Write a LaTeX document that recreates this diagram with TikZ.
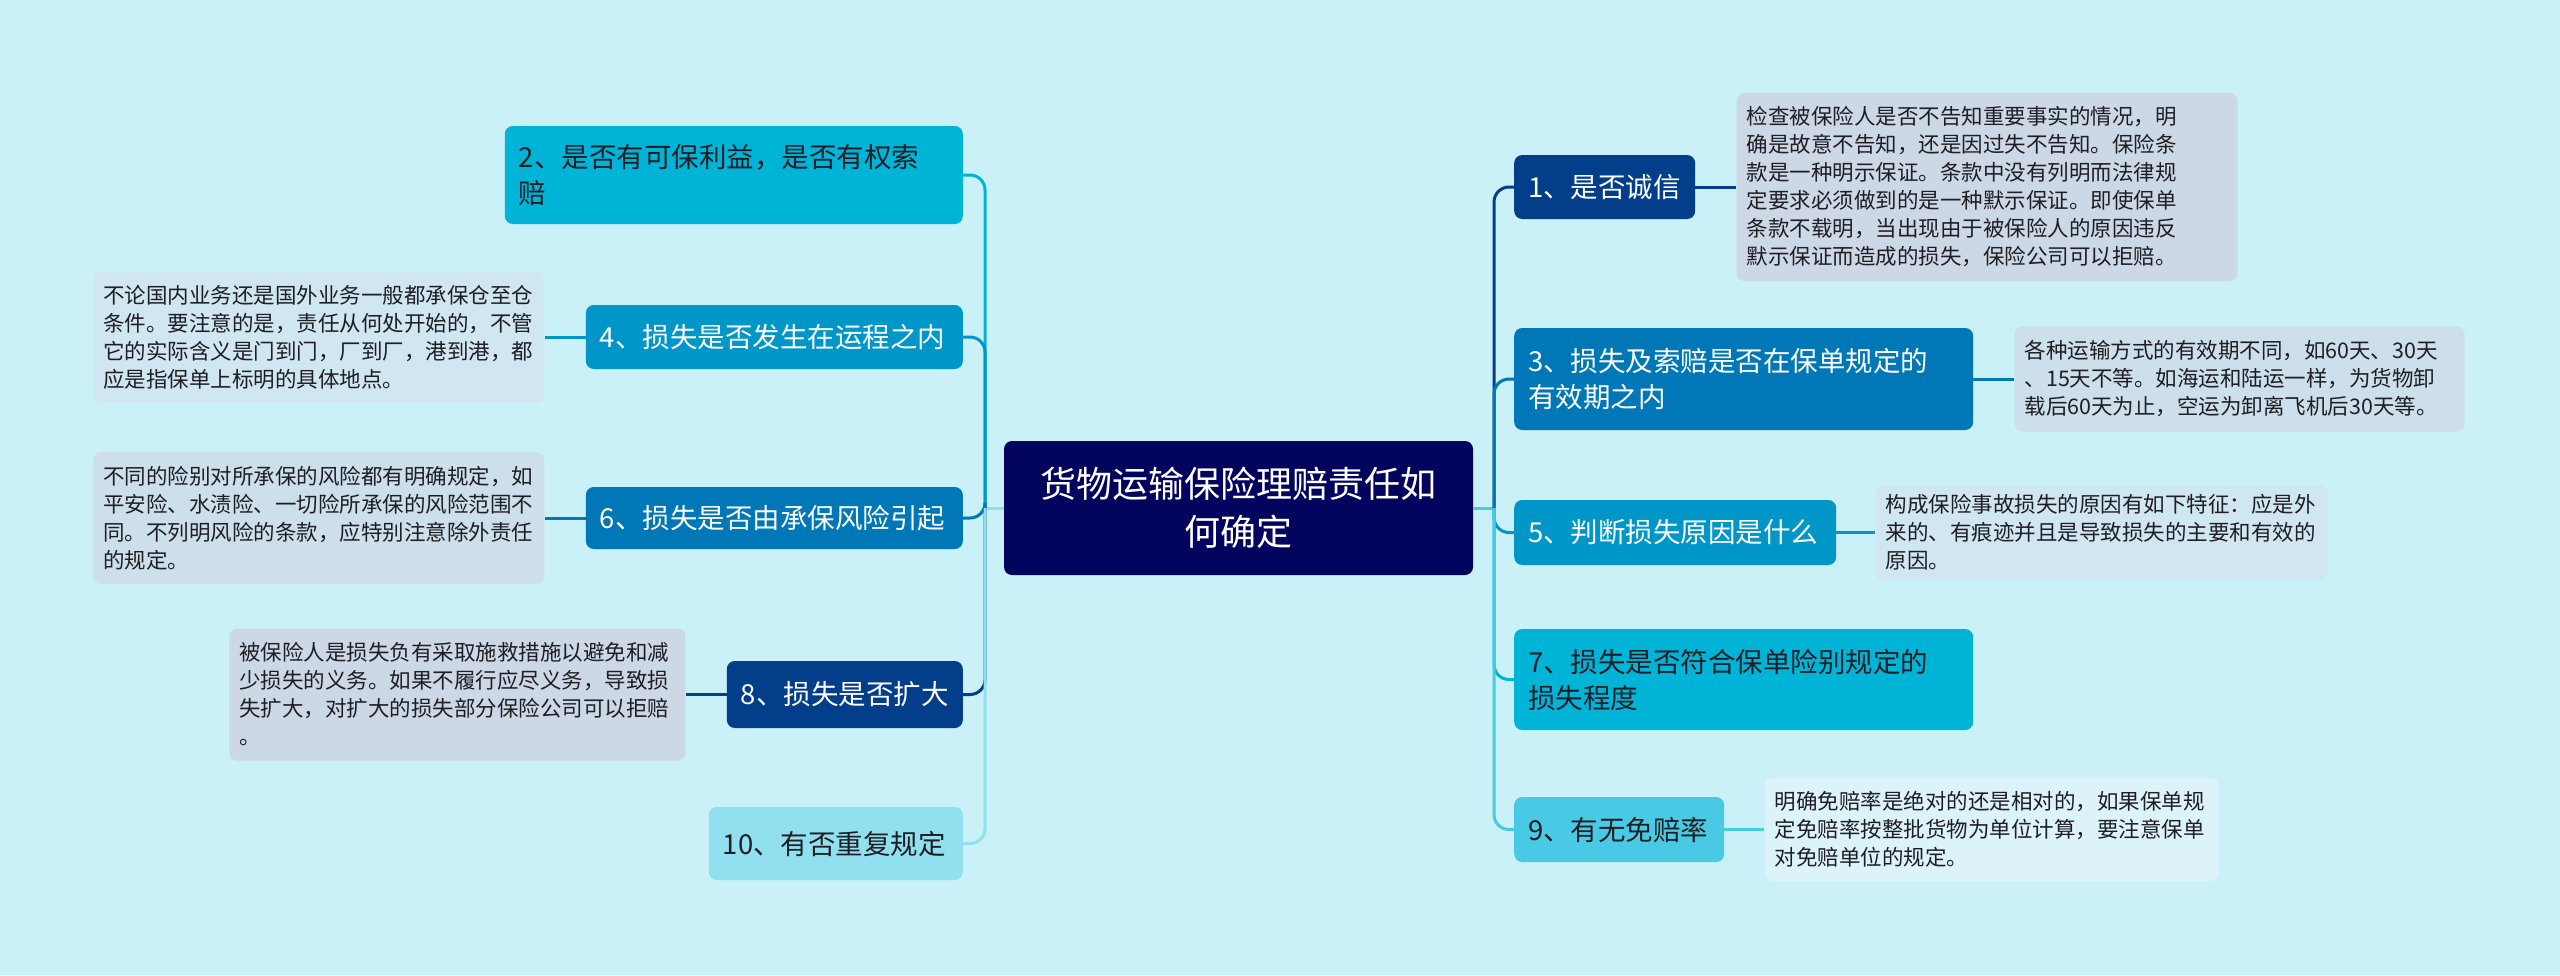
\documentclass[tikz,border=0pt]{standalone}
\usepackage{fontspec}
\setmainfont{Noto Sans CJK SC}
\usepackage{tikz}
\usetikzlibrary{positioning}
\definecolor{bgcol}{HTML}{CAF0F8}
\definecolor{rootcol}{HTML}{03045E}
\definecolor{c1}{HTML}{023E8A}
\definecolor{c2}{HTML}{0077B6}
\definecolor{c3}{HTML}{0096C7}
\definecolor{c4}{HTML}{00B4D8}
\definecolor{c5}{HTML}{48CAE4}
\definecolor{c6}{HTML}{90E0EF}
\definecolor{notec1}{RGB}{205, 216, 230}
\definecolor{notec2}{RGB}{205, 223, 235}
\definecolor{notec3}{RGB}{208, 230, 240}
\definecolor{notec5}{RGB}{221, 243, 250}
\definecolor{textdark}{RGB}{30, 30, 36}
\tikzset{
  node distance=41pt,
  rootblock/.style={
    rectangle, rounded corners=8pt, fill=rootcol, text=white,
    inner xsep=14pt, inner ysep=6pt, align=center,
    font=\fontsize{36}{48}\selectfont
  },
  topicblock/.style={
    rectangle, rounded corners=8pt, inner xsep=14pt, inner ysep=6pt,
    align=left, font=\fontsize{27.5}{36}\selectfont
  },
  darktopic/.style={topicblock, text=white},
  lighttopic/.style={topicblock, text=textdark},
  noteblock/.style={
    rectangle, rounded corners=8pt, inner xsep=10pt, inner ysep=6pt,
    align=left, text=textdark, font=\fontsize{21.5}{28}\selectfont
  },
  branchline/.style={line width=3pt, rounded corners=15pt},
  noteline/.style={line width=3pt}
}

\begin{document}
\begin{tikzpicture}[x=1pt, y=-1pt]
  \fill[bgcol] (0,0) rectangle (2560,975);
  \useasboundingbox (0,0) rectangle (2560,975);

  \node[rootblock, text width=441pt, minimum height=134pt] (root) at (1238.5,508) {货物运输保险理赔责任如\\何确定};

  % left side
  \node[lighttopic, fill=c4, text width=430pt, minimum height=98pt, anchor=east] (n2) at (963,175) {2、是否有可保利益，是否有权索\\赔};
  \node[darktopic, fill=c3, text width=349pt, minimum height=64pt, anchor=east] (n4) at (963,337) {4、损失是否发生在运程之内};
  \node[darktopic, fill=c2, text width=349pt, minimum height=62pt, anchor=east] (n6) at (963,518) {6、损失是否由承保风险引起};
  \node[darktopic, fill=c1, text width=208pt, minimum height=67pt, anchor=east] (n8) at (963,694.5) {8、损失是否扩大};
  \node[lighttopic, fill=c6, text width=226pt, minimum height=73pt, anchor=east] (n10) at (963,843.5) {10、有否重复规定};

  \node[noteblock, fill=notec3, text width=431pt, minimum height=131pt, left=of n4] (note4) {不论国内业务还是国外业务一般都承保仓至仓\\条件。要注意的是，责任从何处开始的，不管\\它的实际含义是门到门，厂到厂，港到港，都\\应是指保单上标明的具体地点。};
  \node[noteblock, fill=notec2, text width=431pt, minimum height=132pt, left=of n6] (note6) {不同的险别对所承保的风险都有明确规定，如\\平安险、水渍险、一切险所承保的风险范围不\\同。不列明风险的条款，应特别注意除外责任\\的规定。};
  \node[noteblock, fill=notec1, text width=436pt, minimum height=132pt, left=of n8] (note8) {被保险人是损失负有采取施救措施以避免和减\\少损失的义务。如果不履行应尽义务，导致损\\失扩大，对扩大的损失部分保险公司可以拒赔\\。};

  % right side
  \node[darktopic, fill=c1, text width=153pt, minimum height=64pt, anchor=west] (n1) at (1514,187) {1、是否诚信};
  \node[darktopic, fill=c2, text width=431pt, minimum height=102pt, anchor=west] (n3) at (1514,379) {3、损失及索赔是否在保单规定的\\有效期之内};
  \node[darktopic, fill=c3, text width=294pt, minimum height=65pt, anchor=west] (n5) at (1514,532.5) {5、判断损失原因是什么};
  \node[lighttopic, fill=c4, text width=431pt, minimum height=101pt, anchor=west] (n7) at (1514,679.5) {7、损失是否符合保单险别规定的\\损失程度};
  \node[lighttopic, fill=c5, text width=182pt, minimum height=65pt, anchor=west] (n9) at (1514,829.5) {9、有无免赔率};

  \node[noteblock, fill=notec1, text width=481pt, minimum height=188pt, right=of n1] (note1) {检查被保险人是否不告知重要事实的情况，明\\确是故意不告知，还是因过失不告知。保险条\\款是一种明示保证。条款中没有列明而法律规\\定要求必须做到的是一种默示保证。即使保单\\条款不载明，当出现由于被保险人的原因违反\\默示保证而造成的损失，保险公司可以拒赔。};
  \node[noteblock, fill=notec2, text width=430pt, minimum height=105pt, right=of n3] (note3) {各种运输方式的有效期不同，如60天、30天\\、15天不等。如海运和陆运一样，为货物卸\\载后60天为止，空运为卸离飞机后30天等。};
  \node[noteblock, fill=notec3, text width=432pt, minimum height=95pt, right=39pt of n5] (note5) {构成保险事故损失的原因有如下特征：应是外\\来的、有痕迹并且是导致损失的主要和有效的\\原因。};
  \node[noteblock, fill=notec5, text width=434pt, minimum height=103pt, right=40pt of n9] (note9) {明确免赔率是绝对的还是相对的，如果保单规\\定免赔率按整批货物为单位计算，要注意保单\\对免赔单位的规定。};

  % connectors
  \coordinate (lhub) at (985,508);
  \coordinate (rhub) at (1494,508);
  \draw[branchline, draw=c6] (root.west) -- (lhub);
  \draw[branchline, draw=c5] (root.east) -- (rhub);
  \draw[branchline, draw=c4] (lhub) |- (n2.east);
  \draw[branchline, draw=c3] (lhub) |- (n4.east);
  \draw[branchline, draw=c2] (lhub) |- (n6.east);
  \draw[branchline, draw=c1] (lhub) |- (n8.east);
  \draw[branchline, draw=c6] (lhub) |- (n10.east);
  \draw[branchline, draw=c1] (rhub) |- (n1.west);
  \draw[branchline, draw=c2] (rhub) |- (n3.west);
  \draw[branchline, draw=c3] (rhub) |- (n5.west);
  \draw[branchline, draw=c4] (rhub) |- (n7.west);
  \draw[branchline, draw=c5] (rhub) |- (n9.west);
  \draw[noteline, draw=c3] (n4.west) -- (note4.east);
  \draw[noteline, draw=c2] (n6.west) -- (note6.east);
  \draw[noteline, draw=c1] (n8.west) -- (note8.east);
  \draw[noteline, draw=c1] (n1.east) -- (note1.west);
  \draw[noteline, draw=c2] (n3.east) -- (note3.west);
  \draw[noteline, draw=c3] (n5.east) -- (note5.west);
  \draw[noteline, draw=c5] (n9.east) -- (note9.west);
\end{tikzpicture}
\end{document}
